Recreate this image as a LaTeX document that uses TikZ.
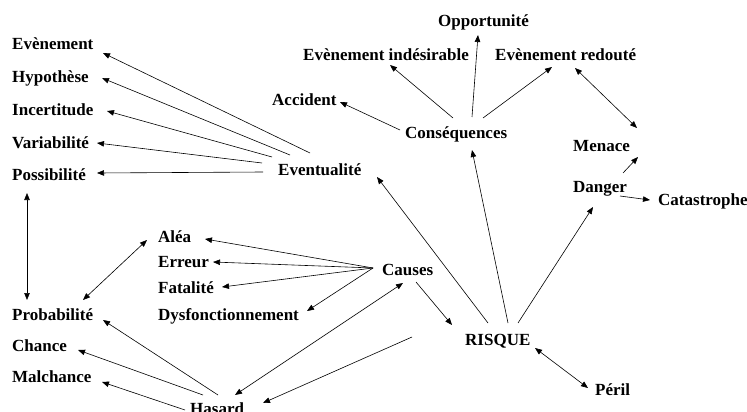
\documentclass[tikz,border=0pt]{standalone}
\usepackage{fontspec}
\setmainfont{Liberation Serif}
\usetikzlibrary{arrows.meta}
\begin{document}
\begin{tikzpicture}[x=1pt,y=-1pt,
  lbl/.style={anchor=base west,inner sep=0pt,font=\fontsize{17}{19}\selectfont\bfseries},
  arr/.style={line width=0.6pt,-{Triangle[length=7pt,width=5.5pt]}},
  darr/.style={line width=0.6pt,{Triangle[length=7pt,width=5.5pt]}-{Triangle[length=7pt,width=5.5pt]}}]
\useasboundingbox (0,0) rectangle (747,412);
\fill[white] (0,0) rectangle (747,412);
% nodes
\node[lbl] (evn) at (12,50) {Evènement};
\node[lbl] (hyp) at (12,82) {Hypothèse};
\node[lbl] (inc) at (12,115) {Incertitude};
\node[lbl] (var) at (12,148) {Variabilité};
\node[lbl] (pos) at (12,180) {Possibilité};
\node[lbl] (evt) at (278,175) {Eventualité};
\node[lbl] (acc) at (272,106) {Accident};
\node[lbl] (evi) at (303,60) {Evènement indésirable};
\node[lbl] (opp) at (438,27) {Opportunité};
\node[lbl] (evr) at (495,60) {Evènement redouté};
\node[lbl] (con) at (405,138) {Conséquences};
\node[lbl] (men) at (573,151) {Menace};
\node[lbl] (dan) at (573,192) {Danger};
\node[lbl] (cat) at (658,205) {Catastrophe};
\node[lbl] (ale) at (158,242) {Aléa};
\node[lbl] (err) at (158,267) {Erreur};
\node[lbl] (fat) at (158,293) {Fatalité};
\node[lbl] (dys) at (158,320) {Dysfonctionnement};
\node[lbl] (cau) at (382,275) {Causes};
\node[lbl] (pro) at (12,320) {Probabilité};
\node[lbl] (cha) at (12,351) {Chance};
\node[lbl] (mal) at (12,382) {Malchance};
\node[lbl] (has) at (190,414) {Hasard};
\node[lbl] (ris) at (465,345) {RISQUE};
\node[lbl] (per) at (595,395) {Péril};
\coordinate (free) at (412,337);
% Eventualite fan
\draw[arr] ([shift={(32,-22)}]evt.base west) -- ([shift={(91,3)}]evn.base west);
\draw[arr] ([shift={(12,-20)}]evt.base west) -- ([shift={(90,-4)}]hyp.base west);
\draw[arr] ([shift={(-6,-18)}]evt.base west) -- ([shift={(95,-4)}]inc.base west);
\draw[arr] ([shift={(-16,-12)}]evt.base west) -- ([shift={(85,-5)}]var.base west);
\draw[arr] ([shift={(-15,-3)}]evt.base west) -- ([shift={(85,-7)}]pos.base west);
% Consequences fan
\draw[arr] ([shift={(-5,-8)}]con.base west) -- ([shift={(68,-4)}]acc.base west);
\draw[arr] ([shift={(48,-20)}]con.base west) -- ([shift={(87,5)}]evi.base west);
\draw[arr] ([shift={(67,-21)}]con.base west) -- ([shift={(40,8)}]opp.base west);
\draw[arr] ([shift={(78,-20)}]con.base west) -- ([shift={(57,7)}]evr.base west);
% right side
\draw[darr] ([shift={(80,8)}]evr.base west) -- ([shift={(64,-23)}]men.base west);
\draw[arr] ([shift={(50,-19)}]dan.base west) -- ([shift={(65,6)}]men.base west);
\draw[arr] ([shift={(47,4)}]dan.base west) -- ([shift={(-8,-5)}]cat.base west);
% RISQUE
\draw[arr] ([shift={(53,-22)}]ris.base west) -- ([shift={(20,15)}]dan.base west);
\draw[arr] ([shift={(43,-22)}]ris.base west) -- ([shift={(67,12)}]con.base west);
\draw[arr] ([shift={(23,-22)}]ris.base west) -- ([shift={(99,2)}]evt.base west);
\draw[arr] ([shift={(34,7)}]cau.base west) -- ([shift={(-13,-20)}]ris.base west);
\draw[darr] ([shift={(70,3)}]ris.base west) -- ([shift={(-7,-7)}]per.base west);
\draw[arr] (free) -- ([shift={(73,-11)}]has.base west);
% Causes
\draw[darr] ([shift={(21,8)}]cau.base west) -- ([shift={(45,-19)}]has.base west);
\draw[arr] ([shift={(-9,-7)}]cau.base west) -- ([shift={(47,-3)}]ale.base west);
\draw[arr] ([shift={(-9,-7)}]cau.base west) -- ([shift={(55,-5)}]err.base west);
\draw[arr] ([shift={(-9,-7)}]cau.base west) -- ([shift={(64,-6)}]fat.base west);
\draw[arr] ([shift={(-9,-7)}]cau.base west) -- ([shift={(149,-9)}]dys.base west);
% left
\draw[darr] ([shift={(-11,-2)}]ale.base west) -- ([shift={(71,-20)}]pro.base west);
\draw[darr] ([shift={(15,13)}]pos.base west) -- ([shift={(15,-20)}]pro.base west);
% Hasard
\draw[arr] ([shift={(28,-19)}]has.base west) -- ([shift={(91,0)}]pro.base west);
\draw[arr] ([shift={(13,-19)}]has.base west) -- ([shift={(66,-1)}]cha.base west);
\draw[arr] ([shift={(-5,-4)}]has.base west) -- ([shift={(90,0)}]mal.base west);
\end{tikzpicture}
\end{document}
